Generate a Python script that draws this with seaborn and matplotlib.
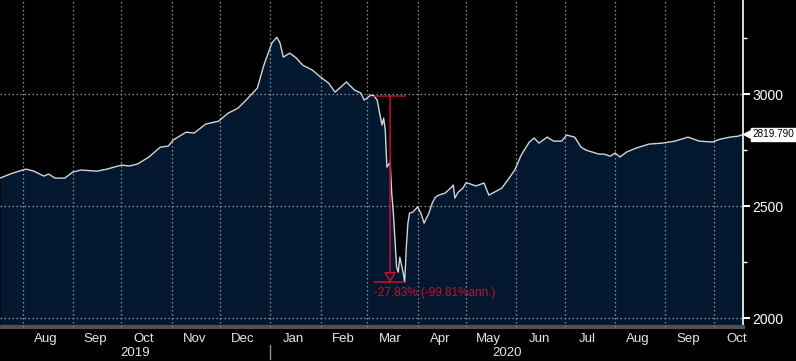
import numpy as np
import pandas as pd
import matplotlib
matplotlib.use("Agg")
import matplotlib.pyplot as plt
import matplotlib.dates as mdates
import matplotlib.transforms as mtransforms
from matplotlib import font_manager
import seaborn as sns

# valores
datas = ["2019-07-18", "2019-07-25", "2019-08-01", "2019-08-03", "2019-08-08", "2019-08-14",
         "2019-08-17", "2019-08-21", "2019-08-27", "2019-09-01", "2019-09-06", "2019-09-16",
         "2019-09-22", "2019-10-01", "2019-10-06", "2019-10-11", "2019-10-18", "2019-10-25",
         "2019-10-30", "2019-11-02", "2019-11-10", "2019-11-15", "2019-11-22", "2019-11-30",
         "2019-12-06", "2019-12-12", "2019-12-17", "2019-12-24", "2019-12-28", "2020-01-02",
         "2020-01-05", "2020-01-07", "2020-01-09", "2020-01-13", "2020-01-17", "2020-01-21",
         "2020-01-27", "2020-02-01", "2020-02-06", "2020-02-10", "2020-02-17", "2020-02-22",
         "2020-02-26", "2020-02-28", "2020-03-03", "2020-03-05", "2020-03-07", "2020-03-09",
         "2020-03-10", "2020-03-11", "2020-03-12", "2020-03-13", "2020-03-15", "2020-03-16",
         "2020-03-17", "2020-03-18", "2020-03-19", "2020-03-20", "2020-03-21", "2020-03-23",
         "2020-03-24", "2020-03-25", "2020-03-26", "2020-03-27", "2020-03-29", "2020-04-01",
         "2020-04-03", "2020-04-05", "2020-04-08", "2020-04-10", "2020-04-12", "2020-04-14",
         "2020-04-18", "2020-04-22", "2020-04-23", "2020-04-24", "2020-04-26", "2020-04-29",
         "2020-05-01", "2020-05-07", "2020-05-12", "2020-05-15", "2020-05-23", "2020-05-27",
         "2020-05-31", "2020-06-04", "2020-06-09", "2020-06-12", "2020-06-15", "2020-06-20",
         "2020-06-24", "2020-06-29", "2020-07-02", "2020-07-07", "2020-07-11", "2020-07-14",
         "2020-07-18", "2020-07-22", "2020-07-25", "2020-07-29", "2020-08-01", "2020-08-04",
         "2020-08-08", "2020-08-14", "2020-08-22", "2020-08-30", "2020-09-07", "2020-09-15",
         "2020-09-22", "2020-09-30", "2020-10-05", "2020-10-11", "2020-10-16", "2020-10-19"]
valores = [2625, 2645, 2661, 2665, 2656, 2634,
           2643, 2625, 2625, 2652, 2661, 2656,
           2665, 2683, 2679, 2688, 2719, 2763,
           2768, 2795, 2830, 2826, 2866, 2879,
           2915, 2937, 2973, 3027, 3129, 3228,
           3254, 3228, 3165, 3183, 3161, 3129,
           3107, 3076, 3049, 3009, 3054, 3018,
           3004, 2973, 2995, 2993, 2973, 2897,
           2862, 2893, 2839, 2674, 2696, 2558,
           2469, 2348, 2228, 2205, 2272, 2205,
           2160, 2317, 2424, 2469, 2473, 2496,
           2469, 2424, 2469, 2513, 2540, 2549,
           2558, 2585, 2594, 2536, 2562, 2580,
           2605, 2590, 2603, 2549, 2580, 2620,
           2661, 2728, 2786, 2804, 2781, 2808,
           2790, 2790, 2817, 2808, 2763, 2750,
           2741, 2732, 2732, 2723, 2737, 2719,
           2741, 2759, 2777, 2781, 2790, 2808,
           2790, 2786, 2799, 2808, 2812, 2819.79]

ultimo_valor = "2819.790"
pico = 2992
vale = 2159
texto_queda = "-27.83% (-99.81%ann.)"

dados = pd.DataFrame({"data": pd.to_datetime(datas), "valor": valores})

FUNDO = "#000000"
AZUL = "#03182f"
CINZA_GRADE = "#8a94a0"
VERMELHO = "#c8102e"

sns.set_theme(style="dark", rc={"axes.facecolor": FUNDO, "figure.facecolor": FUNDO})
plt.rcParams["font.family"] = ["Liberation Sans", "DejaVu Sans"]

# fonte estreita para a etiqueta (se existir)
nomes = {f.name for f in font_manager.fontManager.ttflist}
if "Liberation Sans Narrow" in nomes:
    fonte_tag, tam_tag = "Liberation Sans Narrow", 8.8
else:
    fonte_tag, tam_tag = "Liberation Sans", 7.2

fig = plt.figure(figsize=(7.96, 3.61), dpi=100)
ax = fig.add_axes([0.0, 0.094, 743 / 796, 0.906])

ymin, ymax = 1960, 3420
x0, x1 = pd.Timestamp("2019-07-18"), pd.Timestamp("2020-10-19")

ax.fill_between(dados["data"], ymin, dados["valor"], color=AZUL, lw=0, zorder=1)
sns.lineplot(data=dados, x="data", y="valor", ax=ax, color="#cfd6de", lw=1.0, zorder=3)

ax.set_xlim(x0, x1)
ax.set_ylim(ymin, ymax)
ax.set_xlabel("")
ax.set_ylabel("")

# eixo y a direita
ax.yaxis.tick_right()
ax.set_yticks([2000, 2500, 3000])
ax.set_yticks([2250, 2750, 3250], minor=True)
ax.tick_params(axis="y", which="major", colors="white", labelcolor="white", length=5, width=1.5,
               pad=2, labelsize=10)
ax.tick_params(axis="y", which="minor", colors="white", length=3, width=1)

# eixo x: meses
ax.xaxis.set_major_locator(mdates.MonthLocator())
ax.xaxis.set_major_formatter(plt.NullFormatter())
ax.xaxis.set_minor_locator(mdates.MonthLocator(bymonthday=15))
ax.xaxis.set_minor_formatter(mdates.DateFormatter("%b"))
ax.tick_params(axis="x", which="major", colors="#d0d0d0", length=4, width=1, direction="out")
ax.tick_params(axis="x", which="minor", length=0, pad=4, labelsize=9.5, labelcolor="#e6e6e6")

ax.grid(True, which="major", color=CINZA_GRADE, lw=0.9, ls=(0, (1.2, 2)))
ax.set_axisbelow(False)

for lado in ["top", "left"]:
    ax.spines[lado].set_visible(False)
ax.spines["right"].set_color("white")
ax.spines["right"].set_linewidth(1.2)
ax.spines["bottom"].set_color("#505050")
ax.spines["bottom"].set_linewidth(3)

# anos
trans = mtransforms.blended_transform_factory(ax.transData, ax.transAxes)
meio_2019 = x0 + (pd.Timestamp("2020-01-01") - x0) / 2
meio_2020 = pd.Timestamp("2020-01-01") + (x1 - pd.Timestamp("2020-01-01")) / 2
ax.text(meio_2019, -0.078, "2019", transform=trans, ha="center", va="center", color="#e6e6e6",
        fontsize=9.5)
ax.text(meio_2020, -0.078, "2020", transform=trans, ha="center", va="center", color="#e6e6e6",
        fontsize=9.5)
jan = pd.Timestamp("2020-01-01")
ax.plot([jan, jan], [-0.055, -0.098], transform=trans, color="#909090", lw=1, clip_on=False)

# anotacao da queda
ini, fim = pd.Timestamp("2020-03-05"), pd.Timestamp("2020-03-24")
meio = pd.Timestamp("2020-03-15")
ax.hlines(pico, ini, pd.Timestamp("2020-03-25"), color=VERMELHO, lw=1.1, zorder=4)
ax.hlines(vale, ini, fim, color=VERMELHO, lw=1.1, zorder=4)
ax.annotate("", xy=(meio, vale), xytext=(meio, pico),
            arrowprops=dict(arrowstyle="-|>,head_length=0.5,head_width=0.3", color=VERMELHO,
                            fc=AZUL, lw=1.1, shrinkA=0, shrinkB=0), zorder=4)
ax.text(ini, vale - 18, texto_queda, color=VERMELHO, fontsize=8.5, ha="left", va="top", zorder=4)

# etiqueta do ultimo valor: caixa branca com ponta
ponta = mtransforms.offset_copy(ax.transData, fig=fig, x=6, y=0, units="dots")
ax.plot([x1], [valores[-1]], marker="<", ms=9, color="white", transform=ponta, clip_on=False,
        zorder=5)
ax.annotate(ultimo_valor, xy=(x1, valores[-1]), xytext=(7, 0), textcoords="offset points",
            ha="left", va="center", fontsize=tam_tag, family=fonte_tag, color="black",
            annotation_clip=False,
            bbox=dict(boxstyle="square,pad=0.15", fc="white", ec="white"), zorder=5)

fig.savefig("out.png", dpi=100, facecolor=FUNDO)
